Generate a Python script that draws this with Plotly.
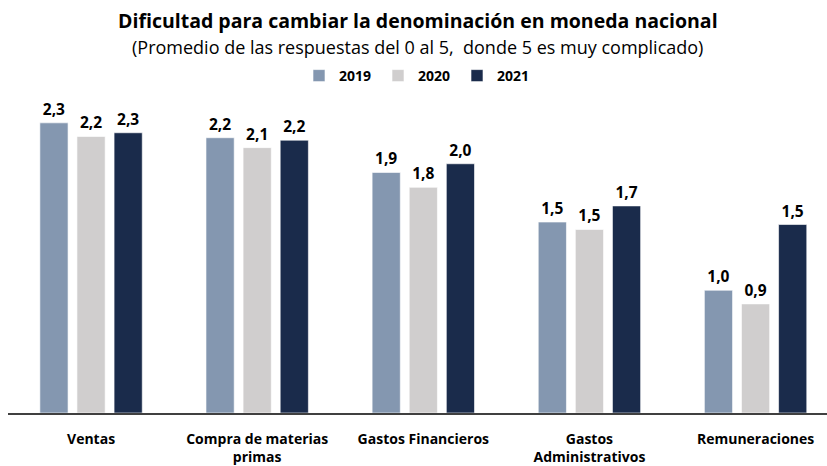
import plotly.graph_objects as go

categories = ["Ventas", "Compra de materias<br>primas", "Gastos Financieros",
              "Gastos<br>Administrativos", "Remuneraciones"]
v2019 = [2.34, 2.22, 1.94, 1.54, 0.99]
v2020 = [2.23, 2.14, 1.82, 1.48, 0.88]
v2021 = [2.26, 2.20, 2.01, 1.67, 1.52]
series_names = ["2019", "2020", "2021"]
colors = ["#8497B0", "#D0CECE", "#1A2B4B"]

FONT = "Open Sans"
W, H = 827, 466
T, B = 100, 53
plot_h = H - T - B

fig = go.Figure()
for name, vals, col in zip(series_names, [v2019, v2020, v2021], colors):
    fig.add_trace(go.Bar(
        x=categories, y=vals, name=name,
        marker=dict(color=col, line=dict(color="rgba(255,255,255,0.6)", width=1)),
        texttemplate="%{y:.1f}", textposition="outside",
        textfont=dict(family=FONT, size=15.5, color="#000000", weight="bold"),
        cliponaxis=False,
    ))

fig.update_layout(
    width=W, height=H,
    margin=dict(l=8, r=0, t=T, b=B, autoexpand=False),
    paper_bgcolor="white", plot_bgcolor="white",
    barmode="group", bargap=0.33, bargroupgap=0.24,
    separators=",.",
    font=dict(family=FONT, color="#000000"),
    showlegend=True,
    legend=dict(orientation="h", x=0.5, xanchor="center", y=1 - 60 / H, yref="container",
                yanchor="top", font=dict(family=FONT, size=14, weight="bold"),
                itemwidth=30, traceorder="normal", entrywidth=34),
    xaxis=dict(range=[-0.5, 4.43], showline=True, linecolor="#404040", linewidth=1.5,
               ticks="", ticklabelstandoff=12, automargin=False,
               tickfont=dict(family=FONT, size=14, weight="bold", color="#000000"),
               showgrid=False, fixedrange=True),
    yaxis=dict(range=[0, plot_h / 124], visible=False, showgrid=False, automargin=False),
    annotations=[
        dict(text="<b>Dificultad para cambiar la denominación en moneda nacional</b>",
             x=0.5, xref="paper", y=1 + (T - 20) / plot_h, yref="paper", yanchor="middle",
             showarrow=False, font=dict(family=FONT, size=19.5, color="#000000")),
        dict(text="(Promedio de las respuestas del 0 al 5,  donde 5 es muy complicado)",
             x=0.5, xref="paper", y=1 + (T - 47) / plot_h, yref="paper", yanchor="middle",
             showarrow=False, font=dict(family=FONT, size=18, color="#000000")),
    ],
)

fig.write_html("out.html", config={"displayModeBar": False},
               post_script="document.body.style.margin='0';")
